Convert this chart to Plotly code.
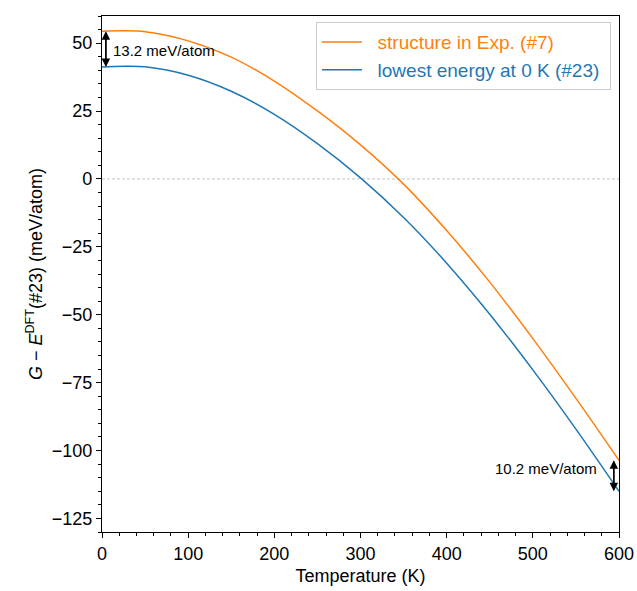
import plotly.graph_objects as go

temperature = [0, 25, 50, 100, 150, 200, 250, 300, 350, 400, 450, 500, 550, 600]
g_exp7 = [54.4, 54.55, 54.2, 50.85, 44.85, 36.05, 25.05, 12.55, -1.9, -19.0, -38.0, -58.8, -80.8, -103.6]
g_low23 = [41.2, 41.5, 41.3, 38.2, 32.3, 23.8, 13.0, 0.4, -14.2, -31.0, -49.8, -70.3, -92.1, -115.0]

gap_low_T = 13.2
gap_high_T = 10.2

ORANGE = "#ff7f0e"
BLUE = "#1f77b4"
FONT = "Liberation Sans, Arial, sans-serif"
NB = "\u00a0"

fig = go.Figure()
fig.add_trace(go.Scatter(
    x=temperature, y=g_exp7, mode="lines",
    line=dict(color=ORANGE, width=1.5, shape="spline", smoothing=1.0),
    name=f"{NB*2}<span style='color:{ORANGE}'>structure in Exp. (#7)</span>{NB}"))
fig.add_trace(go.Scatter(
    x=temperature, y=g_low23, mode="lines",
    line=dict(color=BLUE, width=1.5, shape="spline", smoothing=1.0),
    name=f"{NB*2}<span style='color:{BLUE}'>lowest energy at 0 K (#23)</span>{NB}"))

# zero reference line
fig.add_shape(type="line", xref="paper", x0=0, x1=1, yref="y", y0=0, y1=0,
              line=dict(color="#aaaaaa", width=0.7, dash="3px,2px"), layer="below")

# double arrows between the curves at both ends
for xa, top, bot in [(4.5, g_exp7[0], g_low23[0]), (594, g_exp7[-1], g_low23[-1])]:
    for y_head, y_tail in [(top, bot), (bot, top)]:
        fig.add_annotation(x=xa, y=y_head, ax=xa, ay=y_tail, xref="x", yref="y",
                           axref="x", ayref="y", showarrow=True, arrowhead=2,
                           arrowsize=1.3, arrowwidth=1.3, arrowcolor="black", text="")

fig.add_annotation(x=10, y=47.3, xref="x", yref="y",
                   text=f"{gap_low_T} meV/atom", showarrow=False, xanchor="left",
                   font=dict(family=FONT, size=15, color="black"))
fig.add_annotation(x=577, y=-106.6, xref="x", yref="y",
                   text=f"{gap_high_T} meV/atom", showarrow=False, xanchor="right",
                   font=dict(family=FONT, size=15, color="black"))

axis_common = dict(showline=True, linecolor="black", linewidth=1.2, mirror=True,
                   ticks="outside", ticklen=5, tickwidth=1, tickcolor="black",
                   showgrid=False, zeroline=False,
                   tickfont=dict(family=FONT, size=18, color="black"))

fig.update_xaxes(range=[0, 600], tick0=0, dtick=100,
                 minor=dict(ticks="outside", ticklen=3, tickwidth=0.8, dtick=20, tickcolor="black"),
                 title=dict(text="Temperature (K)", font=dict(family=FONT, size=18, color="black"), standoff=6),
                 **axis_common)
fig.update_yaxes(range=[-130, 60], tick0=-125, dtick=25, tickformat="d",
                 minor=dict(ticks="outside", ticklen=3, tickwidth=0.8, dtick=5, tickcolor="black"),
                 title=dict(text="<i>G</i> − <i>E</i><sup>DFT</sup>(#23) (meV/atom)",
                            font=dict(family=FONT, size=18, color="black"), standoff=4),
                 **axis_common)

fig.update_layout(
    width=637, height=591,
    margin=dict(l=102, r=18, t=16, b=59, autoexpand=False),
    plot_bgcolor="white", paper_bgcolor="white",
    separators=".−",
    legend=dict(x=0.9845, y=0.988, xanchor="right", yanchor="top",
                bgcolor="rgba(255,255,255,0.9)", bordercolor="#cccccc", borderwidth=1,
                font=dict(family=FONT, size=19), itemwidth=40, tracegroupgap=2),
    showlegend=True,
)

fig.write_html("out.html", config={"responsive": False, "displayModeBar": False},
               post_script="document.body.style.margin='0';")
